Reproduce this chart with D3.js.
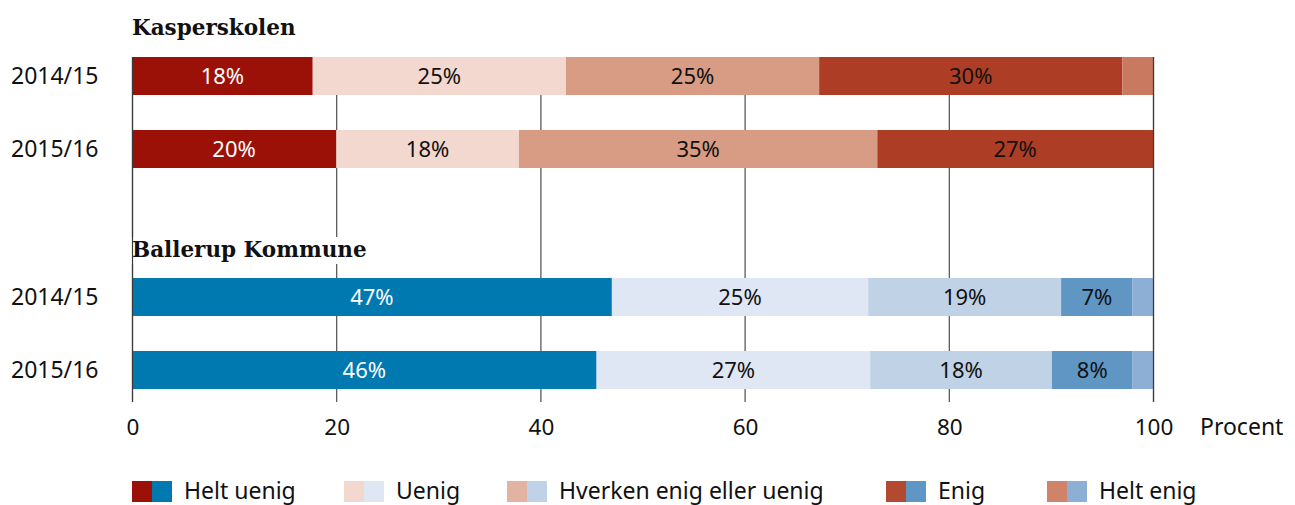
<!DOCTYPE html>
<html><head><meta charset="utf-8">
<script src="https://cdn.jsdelivr.net/npm/d3@7"></script>
<style>body{margin:0;background:#fff}svg{display:block}</style>
</head><body>
<svg id="c" width="1295" height="505"></svg>
<script>
const categories = ["Helt uenig","Uenig","Hverken enig eller uenig","Enig","Helt enig"];
const years = ["2014/15","2015/16"];
const groups = ["Kasperskolen","Ballerup Kommune"];
const kasperskolen2014 = [17.7, 24.8, 24.8, 29.7, 3.0];
const kasperskolen2015 = [20.0, 17.9, 35.1, 27.0, 0.0];
const ballerup2014 = [47.0, 25.1, 18.9, 7.0, 2.0];
const ballerup2015 = [45.5, 26.8, 17.8, 7.9, 2.0];
const xTicks = [0,20,40,60,80,100];
const axisLabel = "Procent";

const redColors = ["#9c1107","#f2d8cf","#d89c84","#ae3d25","#c97960"];
const blueColors = ["#0078b0","#e0e7f4","#c0d2e6","#5f96c4","#8daed5"];
const redLegend = ["#9c1107","#f2d8cf","#e2b3a0","#b14a31","#cf8369"];
const blueLegend = ["#0078b0","#e0e7f4","#c0d2e6","#5f96c4","#8daed5"];
const darkText = [true,false,false,false,false];

const svg = d3.select("#c");
const font = "'Noto Sans', sans-serif";
const x = d3.scaleLinear().domain([0,100]).range([132,1153]);

const groupData = [
  {name: groups[0], rows: [kasperskolen2014, kasperskolen2015], colors: redColors, top: 57, titleY: 35},
  {name: groups[1], rows: [ballerup2014, ballerup2015], colors: blueColors, top: 278, titleY: 257}
];

// gridlines
svg.append("g").selectAll("line").data(xTicks).join("line")
  .attr("x1", d=>x(d)+0.5).attr("x2", d=>x(d)+0.5)
  .attr("y1", 57).attr("y2", 402)
  .attr("stroke", "#4d4d4d").attr("stroke-width", 1.2);

groupData.forEach(g => {
  const y = d3.scaleBand().domain(years).range([g.top, g.top + 111]).paddingInner(35/73).paddingOuter(0);
  const t = svg.append("text").attr("x", 132).attr("y", g.titleY)
    .attr("font-family", "'DejaVu Serif', serif").attr("font-weight", "bold")
    .attr("font-size", 21.5).attr("fill", "#111").text(g.name);
  const bb = t.node().getBBox();
  svg.insert("rect", "text").attr("x", bb.x - 2).attr("y", bb.y).attr("width", bb.width + 6).attr("height", bb.height + 2).attr("fill", "#fff");
  g.rows.forEach((vals, i) => {
    let cum = 0;
    const segs = vals.map((v, k) => { const s = {k, v, x0: cum, x1: cum + v}; cum += v; return s; });
    const row = svg.append("g");
    row.selectAll("rect").data(segs.filter(s => s.v > 0)).join("rect")
      .attr("x", s => x(s.x0)).attr("width", s => x(s.x1) - x(s.x0))
      .attr("y", y(years[i])).attr("height", y.bandwidth())
      .attr("fill", s => g.colors[s.k]);
    row.selectAll("text").data(segs.filter(s => s.v >= 5)).join("text")
      .attr("x", s => (x(s.x0) + x(s.x1)) / 2).attr("y", y(years[i]) + y.bandwidth()/2 + 7.5)
      .attr("text-anchor", "middle").attr("font-family", font).attr("font-size", 22)
      .attr("fill", s => darkText[s.k] ? "#fff" : "#111")
      .text(s => Math.round(s.v) + "%");
    svg.append("text").attr("x", 11).attr("y", y(years[i]) + y.bandwidth()/2 + 8)
      .attr("font-family", font).attr("font-size", 23).attr("fill", "#111").text(years[i]);
  });
});

// 0 and 100 axis lines on top
svg.append("g").selectAll("line").data([0,100]).join("line")
  .attr("x1", d=>x(d)+0.5).attr("x2", d=>x(d)+0.5)
  .attr("y1", 57).attr("y2", 402)
  .attr("stroke", "#3a3a3a").attr("stroke-width", 1.2);

// tick labels
svg.append("g").selectAll("text").data(xTicks).join("text")
  .attr("x", d => x(d) + 1).attr("y", 435).attr("text-anchor", "middle")
  .attr("font-family", font).attr("font-size", 22.5).attr("fill", "#111").text(d => d);
svg.append("text").attr("x", 1200).attr("y", 435).attr("font-family", font)
  .attr("font-size", 23).attr("fill", "#111").text(axisLabel);

// legend
const legendX = [132, 344, 507, 886, 1047];
const lg = svg.append("g").selectAll("g").data(categories).join("g")
  .attr("transform", (d,i) => `translate(${legendX[i]},481)`);
lg.append("rect").attr("width", 20).attr("height", 21).attr("fill", (d,i) => redLegend[i]);
lg.append("rect").attr("x", 20).attr("width", 20).attr("height", 21).attr("fill", (d,i) => blueLegend[i]);
lg.append("text").attr("x", 52).attr("y", 17.5).attr("font-family", font).attr("font-size", 23)
  .attr("fill", "#111").text(d => d);
</script>
</body></html>
